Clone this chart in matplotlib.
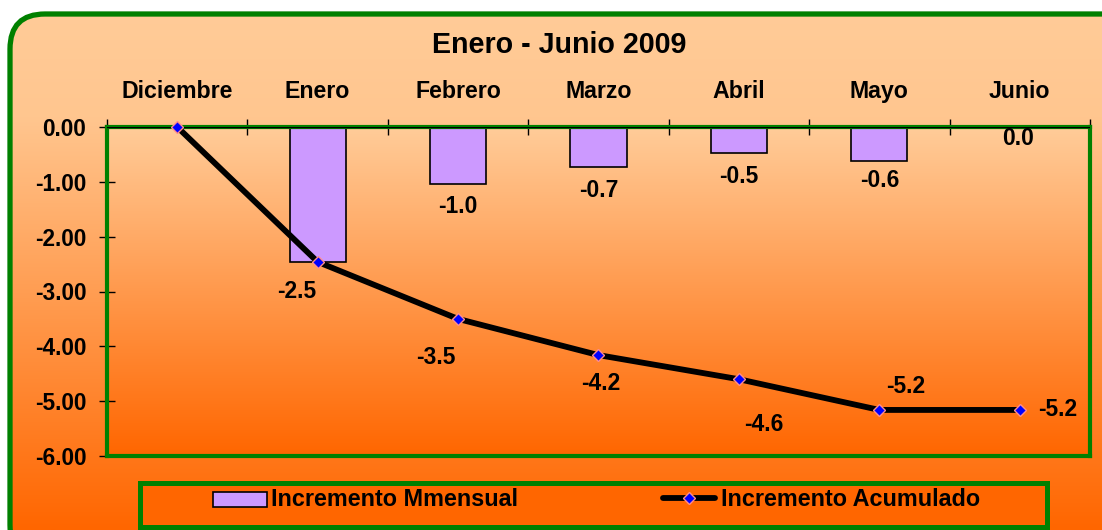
import matplotlib
matplotlib.use("Agg")
import matplotlib.pyplot as plt
import numpy as np
from matplotlib.colors import LinearSegmentedColormap
from matplotlib.patches import FancyBboxPatch, Rectangle
from matplotlib.lines import Line2D

# data
months = ["Diciembre", "Enero", "Febrero", "Marzo", "Abril", "Mayo", "Junio"]
mensual = [-2.47, -1.04, -0.73, -0.47, -0.62, 0.0]          # Enero..Junio
acumulado = [0.0, -2.46, -3.50, -4.16, -4.60, -5.16, -5.16]  # Diciembre..Junio
y_ticks = [0, -1, -2, -3, -4, -5, -6]

# label offsets in pixels (dx, dy), placed by hand like the original
# (Enero bar label sits under the line label, so it is skipped)
bar_off = [None, (0, -22), (0, -23), (0, -24), (0, -20), (-2, -11)]
line_off = [None, (-21, -30), (-22, -39), (2, -28), (25, -45), (26, 23), (38, 0)]

green = "#008000"
plt.rcParams['font.family'] = ['Liberation Sans', 'DejaVu Sans']
plt.rcParams['font.weight'] = 'bold'

fig = plt.figure(figsize=(11.02, 5.30), dpi=100)

# background in pixel coordinates
bg = fig.add_axes([0, 0, 1, 1], zorder=-10)
bg.set_xlim(0, 1102)
bg.set_ylim(0, 530)
bg.axis('off')

fig_cmap = LinearSegmentedColormap.from_list(
    "figgrad", [(0, "#FFCC99"), (0.22, "#FFC68F"), (1, "#FF6600")])
frame = FancyBboxPatch((10, -30), 1130, 546,
                       boxstyle="round,pad=0,rounding_size=35",
                       fc="none", ec="none")
bg.add_patch(frame)
im = bg.imshow(np.linspace(0, 1, 256).reshape(-1, 1), extent=(0, 1102, 0, 530),
               aspect='auto', cmap=fig_cmap, origin='upper')
im.set_clip_path(frame)
bg.add_patch(FancyBboxPatch((10, -30), 1130, 546,
                            boxstyle="round,pad=0,rounding_size=35",
                            fc="none", ec=green, lw=3.8))

# title
bg.text(559, 485, "Enero - Junio 2009", ha='center', va='center',
        fontsize=20.6, fontweight='bold')

# legend box
bg.add_patch(Rectangle((139.5, 3.5), 907, 44, fc="#FF6600", ec=green, lw=3.6))
bg.add_patch(Rectangle((213, 23), 54, 15, fc="#CC99FF", ec="black", lw=1.2))
bg.text(271, 31, "Incremento Mmensual", ha='left', va='center', fontsize=16.8)
bg.add_line(Line2D([663, 715], [32, 32], color='black', lw=4.2,
                   solid_capstyle='round'))
bg.add_line(Line2D([689], [32], marker='D', ms=6.5, mfc='blue', mec='#FF8C8C',
                   mew=1, ls='none'))
bg.text(721, 31, "Incremento Acumulado", ha='left', va='center', fontsize=16.8)

# plot area
ax = fig.add_axes([107 / 1102, 1 - 456 / 530, 983 / 1102, 329 / 530])
ax.set_xlim(-0.5, 6.5)
ax.set_ylim(-6, 0)
ax.patch.set_alpha(0)

plot_cmap = LinearSegmentedColormap.from_list("plotgrad", ["#FFCC99", "#FF6600"])
ax.imshow(np.linspace(0, 1, 256).reshape(-1, 1), extent=(-0.5, 6.5, -6, 0),
          aspect='auto', cmap=plot_cmap, origin='upper', zorder=0)

bar_x = list(range(1, 7))
ax.bar(bar_x, mensual, width=0.4, color="#CC99FF", edgecolor='black',
       linewidth=1.2, zorder=2)
ax.plot(range(7), acumulado, color='black', lw=4.2, marker='D', ms=6.5,
        mfc='blue', mec='#FF8C8C', mew=1, zorder=4, clip_on=False)

for x, v, off in zip(bar_x, mensual, bar_off):
    if off is None:
        continue
    ax.annotate(f"{v:.1f}", (x, v), xytext=off, textcoords='offset pixels',
                ha='center', va='center', fontsize=16.5, fontweight='bold', zorder=5)
for x, v, off in zip(range(7), acumulado, line_off):
    if off is None:
        continue
    ax.annotate(f"{v:.1f}", (x, v), xytext=off, textcoords='offset pixels',
                ha='center', va='center', fontsize=16.5, fontweight='bold', zorder=5)

for s in ax.spines.values():
    s.set_color(green)
    s.set_linewidth(3)
    s.set_zorder(3)
ax.axhline(0, color='black', lw=1, zorder=3.5)

ax.xaxis.tick_top()
ax.set_xticks(range(7))
ax.set_xticklabels(months, fontsize=16.7, fontweight='bold')
ax.set_xticks(np.arange(-0.5, 7, 1), minor=True)
ax.tick_params(axis='x', which='major', length=0, pad=17)
ax.tick_params(axis='x', which='minor', direction='inout', length=11, width=1,
               top=True, bottom=False)
ax.set_yticks(y_ticks)
ax.set_yticklabels([f"{v:.2f}" for v in y_ticks], fontsize=16.3, fontweight='bold')
ax.tick_params(axis='y', direction='inout', length=11, width=1, pad=9.5)

fig.savefig("out.png", dpi=100)
